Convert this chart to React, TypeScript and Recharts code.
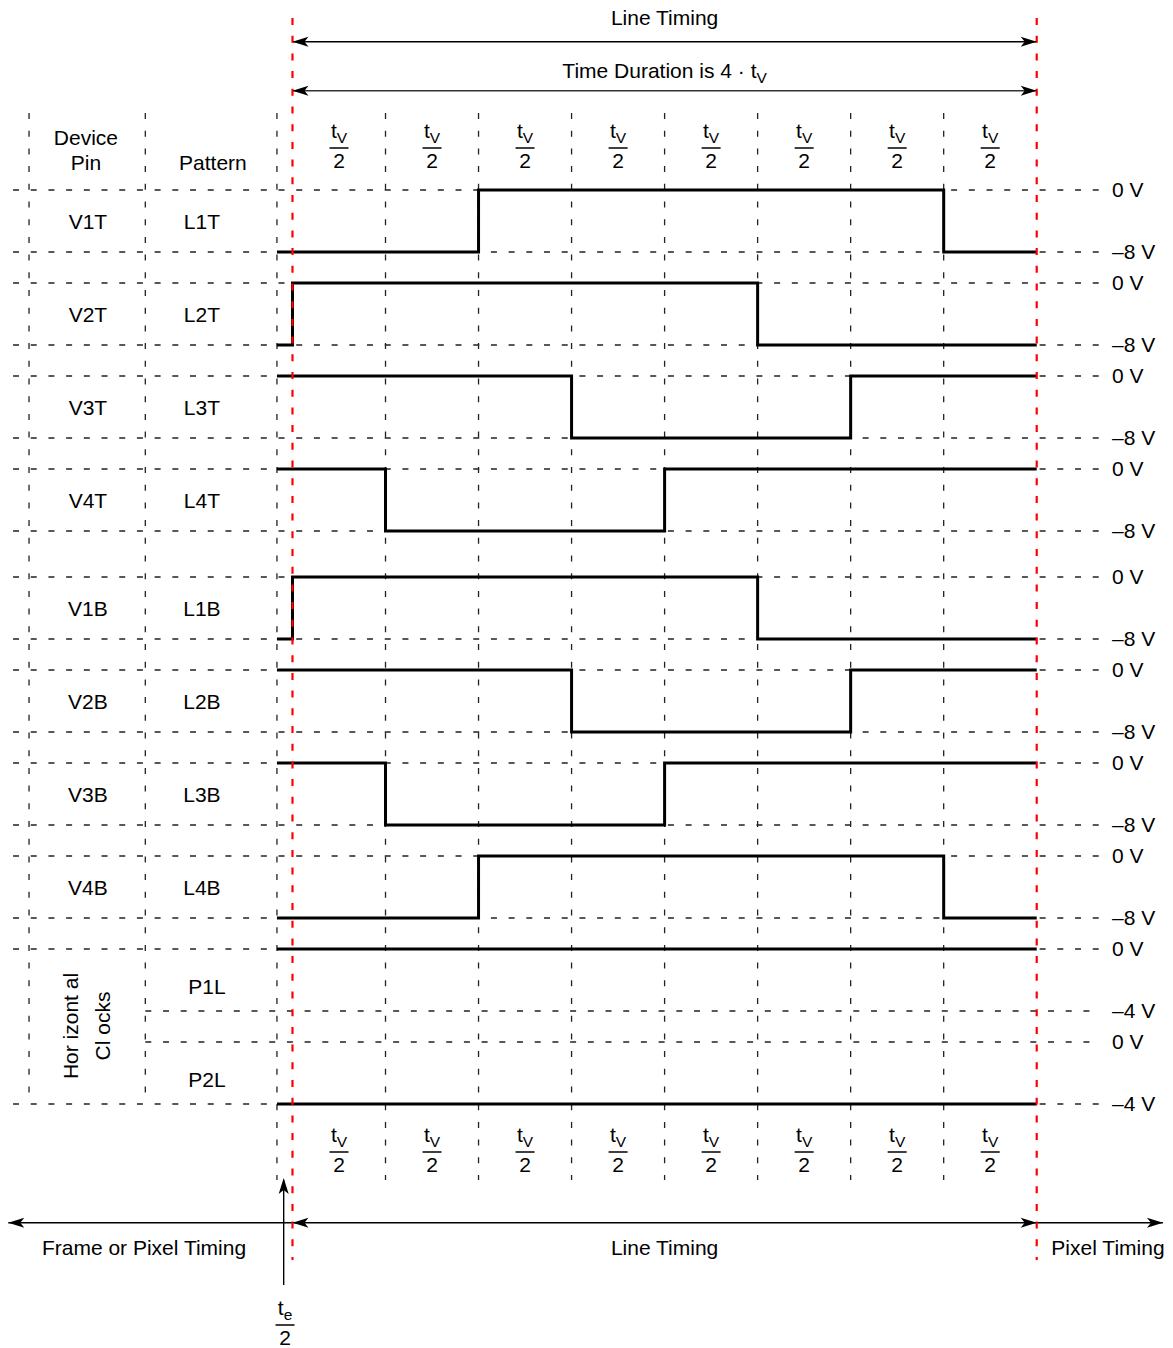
import { ComposedChart, Line, Scatter, XAxis, YAxis, ReferenceLine } from 'recharts';

const WIDTH = 1173;
const HEIGHT = 1348;
const FONT = '"Liberation Sans", Arial, Helvetica, sans-serif';
const FS = 21;

// time axis is in units of tV/2: 0 = start of line timing, 8 = end (4 · tV)
const SLOT_COUNT = 8;
const T_START = -0.167; // -te/2

const pinNames = ['V1T', 'V2T', 'V3T', 'V4T', 'V1B', 'V2B', 'V3B', 'V4B'];
const patternNames = ['L1T', 'L2T', 'L3T', 'L4T', 'L1B', 'L2B', 'L3B', 'L4B'];
const clockNames = ['P1L', 'P2L'];

// 1 = high (0 V), 0 = low. first value is the level during te/2, then one per tV/2 slot
const L1T = [0, 0, 0, 1, 1, 1, 1, 1, 0];
const L2T = [0, 1, 1, 1, 1, 1, 0, 0, 0];
const L3T = [1, 1, 1, 1, 0, 0, 0, 1, 1];
const L4T = [1, 1, 0, 0, 0, 1, 1, 1, 1];
const L1B = [0, 1, 1, 1, 1, 1, 0, 0, 0];
const L2B = [1, 1, 1, 1, 0, 0, 0, 1, 1];
const L3B = [1, 1, 0, 0, 0, 1, 1, 1, 1];
const L4B = [0, 0, 0, 1, 1, 1, 1, 1, 0];
const P1L = [1, 1, 1, 1, 1, 1, 1, 1, 1];
const P2L = [0, 0, 0, 0, 0, 0, 0, 0, 0];

const pinWaves = [L1T, L2T, L3T, L4T, L1B, L2B, L3B, L4B];
const clockWaves = [P1L, P2L];
const pinVolts = ['0 V', '–8 V'];
const clockVolts = ['0 V', '–4 V'];
const slotFraction = { num: 't', sub: 'V', den: '2' };
const edgeFraction = { num: 't', sub: 'e', den: '2' };
const topLabels = ['Line Timing', 'Time Duration is 4 · t'];
const bottomLabels = ['Frame or Pixel Timing', 'Line Timing', 'Pixel Timing'];

// layout (x in tV/2 units, y in px on a reversed axis)
const X_DOMAIN = [-3.144, 9.465];
const PIN_TOPS = [190, 283, 376, 469, 577, 670, 763, 856];
const CLOCK_TOPS = [949, 1042];
const SWING = 62;
const GRID_X0 = -3.004;
const GRID_X1 = 8.68;
const COL_PIN = -2.832;
const COL_PAT = -1.582;
const VOLT_X = 8.809;

const levelY = (lvl: number, top: number) => (lvl ? top : top + SWING);
const waveData = (levels: number[], top: number) => [
  { t: T_START, y: levelY(levels[0], top) },
  ...levels.slice(1).map((l, i) => ({ t: i, y: levelY(l, top) })),
  { t: SLOT_COUNT, y: levelY(levels[SLOT_COUNT], top) },
];

const textData = [
  { t: -2.22, y: 145, text: 'Device' },
  { t: -2.22, y: 170, text: 'Pin' },
  { t: -0.855, y: 170, text: 'Pattern' },
  ...pinNames.map((n, i) => ({ t: -2.199, y: PIN_TOPS[i] + 38.5, text: n })),
  ...patternNames.map((n, i) => ({ t: -0.973, y: PIN_TOPS[i] + 38.5, text: n })),
  ...clockNames.map((n, i) => ({ t: -0.919, y: CLOCK_TOPS[i] + 44.5, text: n })),
  { t: 4, y: 25, text: topLabels[0] },
  { t: -1.596, y: 1255, text: bottomLabels[0] },
  { t: 4, y: 1255, text: bottomLabels[1] },
  { t: 8.766, y: 1255, text: bottomLabels[2] },
];

const voltData = [
  ...PIN_TOPS.flatMap((top) => [
    { t: VOLT_X, y: top + 7, text: pinVolts[0] },
    { t: VOLT_X, y: top + SWING + 7, text: pinVolts[1] },
  ]),
  ...CLOCK_TOPS.flatMap((top) => [
    { t: VOLT_X, y: top + 7, text: clockVolts[0] },
    { t: VOLT_X, y: top + SWING + 7, text: clockVolts[1] },
  ]),
];

const rotatedData = [
  { t: -2.306, y: 1026, text: 'Hor izont al' },
  { t: -1.962, y: 1026, text: 'Cl ocks' },
];

const fractionData = [
  ...Array.from({ length: SLOT_COUNT }, (_, k) => ({ t: k + 0.5, y: 148, ...slotFraction })),
  ...Array.from({ length: SLOT_COUNT }, (_, k) => ({ t: k + 0.5, y: 1152, ...slotFraction })),
  { t: -0.08, y: 1325, ...edgeFraction },
];

const arrowHeads = [
  { t: 0, y: 41.7, dir: 180 },
  { t: SLOT_COUNT, y: 41.7, dir: 0 },
  { t: 0, y: 90.7, dir: 180 },
  { t: SLOT_COUNT, y: 90.7, dir: 0 },
  { t: -3.055, y: 1222.7, dir: 180 },
  { t: 0, y: 1222.7, dir: 180 },
  { t: SLOT_COUNT, y: 1222.7, dir: 0 },
  { t: 9.357, y: 1222.7, dir: 0 },
  { t: -0.0946, y: 1178, dir: -90 },
];

const TextMark = (props: any) => {
  const { cx, cy, payload } = props;
  return (
    <text x={cx} y={cy} textAnchor="middle" fontSize={FS} fontFamily={FONT} fill="#000">
      {payload.text}
    </text>
  );
};

const VoltMark = (props: any) => (
  <text x={props.cx} y={props.cy} textAnchor="start" fontSize={FS} fontFamily={FONT} fill="#000">
    {props.payload.text}
  </text>
);

const RotatedMark = (props: any) => {
  const { cx, cy, payload } = props;
  return (
    <text x={cx} y={cy} transform={`rotate(-90, ${cx}, ${cy})`} textAnchor="middle" fontSize={FS} fontFamily={FONT} fill="#000">
      {payload.text}
    </text>
  );
};

const FractionMark = (props: any) => {
  const { cx, cy, payload } = props;
  return (
    <g>
      <text x={cx} y={cy - 10} textAnchor="middle" fontSize={FS} fontFamily={FONT} fill="#000">
        {payload.num}
        <tspan fontSize={15.5} dy={5}>{payload.sub}</tspan>
      </text>
      <line x1={cx - 9.5} x2={cx + 9.5} y1={cy} y2={cy} stroke="#000" strokeWidth={1.5} />
      <text x={cx} y={cy + 20} textAnchor="middle" fontSize={FS} fontFamily={FONT} fill="#000">
        {payload.den}
      </text>
    </g>
  );
};

const DurationMark = (props: any) => (
  <text x={props.cx} y={props.cy} textAnchor="middle" fontSize={FS} fontFamily={FONT} fill="#000">
    {topLabels[1]}
    <tspan fontSize={15.5} dy={5}>V</tspan>
  </text>
);

const ArrowHead = (props: any) => (
  <path
    d="M0,0 L-16,-5 L-12,0 L-16,5 Z"
    transform={`translate(${props.cx},${props.cy}) rotate(${props.payload.dir})`}
    fill="#000"
  />
);

const gridStyle = { stroke: '#222', strokeWidth: 1.3, strokeDasharray: '6 11.7' };
const redStyle = { stroke: '#ff0000', strokeWidth: 2.2, strokeDasharray: '7 10.7' };

export default function App() {
  const hLines: { x0: number; y: number }[] = [];
  PIN_TOPS.forEach((top) => {
    hLines.push({ x0: GRID_X0, y: top }, { x0: GRID_X0, y: top + SWING });
  });
  hLines.push(
    { x0: GRID_X0, y: CLOCK_TOPS[0] },
    { x0: COL_PAT, y: CLOCK_TOPS[0] + SWING },
    { x0: COL_PAT, y: CLOCK_TOPS[1] },
    { x0: GRID_X0, y: CLOCK_TOPS[1] + SWING },
  );
  const slotCols = [T_START, ...Array.from({ length: SLOT_COUNT - 1 }, (_, k) => k + 1)];

  return (
    <div style={{ position: 'absolute', left: 0, top: 0, width: WIDTH, height: HEIGHT, background: '#fff' }}>
      <ComposedChart width={WIDTH} height={HEIGHT} margin={{ top: 0, right: 0, bottom: 0, left: 0 }}>
        <XAxis type="number" dataKey="t" domain={X_DOMAIN} hide allowDataOverflow />
        <YAxis type="number" dataKey="y" domain={[0, HEIGHT]} reversed hide allowDataOverflow />

        {hLines.map((l, i) => (
          <ReferenceLine key={`h${i}`} segment={[{ x: l.x0, y: l.y }, { x: GRID_X1, y: l.y }]} {...gridStyle} />
        ))}
        {[COL_PIN, COL_PAT].map((x) => (
          <ReferenceLine key={`c${x}`} segment={[{ x, y: 113 }, { x, y: 1104 }]} {...gridStyle} />
        ))}
        {slotCols.map((x) => (
          <ReferenceLine key={`s${x}`} segment={[{ x, y: 113 }, { x, y: 1180 }]} {...gridStyle} />
        ))}

        {/* arrow shafts */}
        <ReferenceLine segment={[{ x: 0, y: 41.7 }, { x: SLOT_COUNT, y: 41.7 }]} stroke="#000" strokeWidth={1.6} />
        <ReferenceLine segment={[{ x: 0, y: 90.7 }, { x: SLOT_COUNT, y: 90.7 }]} stroke="#333" strokeWidth={1.6} />
        <ReferenceLine segment={[{ x: -3.055, y: 1222.7 }, { x: 9.357, y: 1222.7 }]} stroke="#000" strokeWidth={1.4} />
        <ReferenceLine segment={[{ x: -0.0946, y: 1180 }, { x: -0.0946, y: 1285 }]} stroke="#000" strokeWidth={1.4} />

        {pinWaves.map((w, i) => (
          <Line
            key={pinNames[i]}
            data={waveData(w, PIN_TOPS[i])}
            dataKey="y"
            type="stepAfter"
            stroke="#000"
            strokeWidth={3}
            strokeLinecap="butt"
            strokeLinejoin="miter"
            dot={false}
            activeDot={false}
            isAnimationActive={false}
          />
        ))}
        {clockWaves.map((w, i) => (
          <Line
            key={clockNames[i]}
            data={waveData(w, CLOCK_TOPS[i])}
            dataKey="y"
            type="stepAfter"
            stroke="#000"
            strokeWidth={3}
            dot={false}
            activeDot={false}
            isAnimationActive={false}
          />
        ))}

        <ReferenceLine segment={[{ x: 0, y: 18 }, { x: 0, y: 1260 }]} {...redStyle} />
        <ReferenceLine segment={[{ x: SLOT_COUNT, y: 18 }, { x: SLOT_COUNT, y: 1260 }]} {...redStyle} />

        <Scatter data={textData} dataKey="y" shape={TextMark} isAnimationActive={false} />
        <Scatter data={voltData} dataKey="y" shape={VoltMark} isAnimationActive={false} />
        <Scatter data={rotatedData} dataKey="y" shape={RotatedMark} isAnimationActive={false} />
        <Scatter data={fractionData} dataKey="y" shape={FractionMark} isAnimationActive={false} />
        <Scatter data={[{ t: 4, y: 78 }]} dataKey="y" shape={DurationMark} isAnimationActive={false} />
        <Scatter data={arrowHeads} dataKey="y" shape={ArrowHead} isAnimationActive={false} />
      </ComposedChart>
    </div>
  );
}
